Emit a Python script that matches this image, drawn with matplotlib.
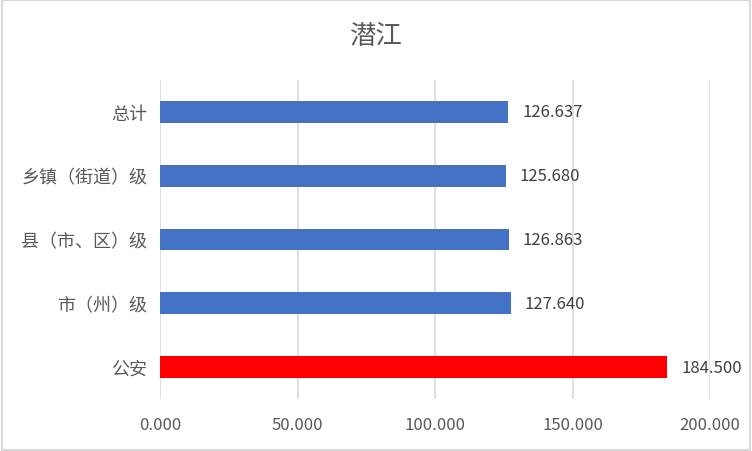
import matplotlib.pyplot as plt
from matplotlib.patches import Rectangle

# data, top to bottom as shown
categories = ["总计", "乡镇（街道）级", "县（市、区）级", "市（州）级", "公安"]
values = [126.637, 125.680, 126.863, 127.640, 184.500]
colors = ["#4472C4", "#4472C4", "#4472C4", "#4472C4", "#FF0000"]
xticks = [0, 50, 100, 150, 200]

plt.rcParams['font.family'] = ['Noto Sans CJK SC', 'DejaVu Sans']
txt = "#595959"

fig = plt.figure(figsize=(7.52, 4.52), dpi=100)
ax = fig.add_axes([160 / 752, 1 - 400 / 452, 550 / 752, 319 / 452])

ypos = list(range(len(categories)))
ax.barh(ypos, values, height=0.34, color=colors, zorder=3)
ax.set_ylim(len(categories) - 0.5, -0.5)
ax.set_xlim(0, 200)
ax.set_yticks(ypos)
ax.set_yticklabels(categories, fontsize=13, color=txt)
ax.set_xticks(xticks)
ax.set_xticklabels([f"{v:.3f}" for v in xticks], fontsize=12, color=txt)
ax.tick_params(length=0, pad=9)
ax.tick_params(axis="x", pad=12)
ax.grid(axis="x", color="#d9d9d9", linewidth=1.2, zorder=0)
for s in ax.spines.values():
    s.set_visible(False)

for y, v in zip(ypos, values):
    ax.text(v + 5, y, f"{v:.3f}", va="center", ha="left", fontsize=12, color="#404040")

fig.text(0.5, 1 - 36 / 452, "潜江", ha="center", va="center", fontsize=19, color=txt)
fig.patches.append(Rectangle((0.002, 0.003), 0.996, 0.994, transform=fig.transFigure,
                             fill=False, edgecolor="#d9d9d9", linewidth=1.5))

fig.savefig("out.png", dpi=100)
